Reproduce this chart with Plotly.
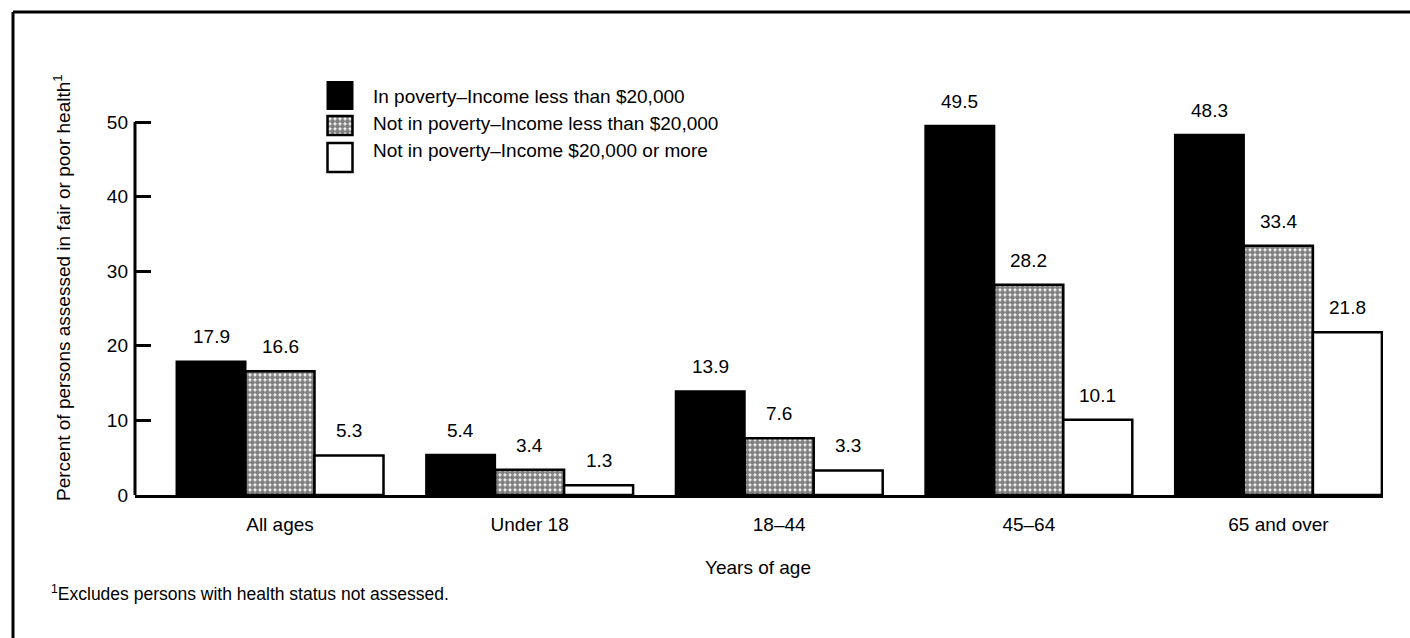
import plotly.graph_objects as go

categories = ["All ages", "Under 18", "18\u201344", "45\u201364", "65 and over"]
series_names = [
    "In poverty\u2013Income less than $20,000",
    "Not in poverty\u2013Income less than $20,000",
    "Not in poverty\u2013Income $20,000 or more",
]
in_poverty = [17.9, 5.4, 13.9, 49.5, 48.3]
not_poverty_low = [16.6, 3.4, 7.6, 28.2, 33.4]
not_poverty_high = [5.3, 1.3, 3.3, 10.1, 21.8]
y_ticks = [0, 10, 20, 30, 40, 50]

FONT = "Liberation Sans, Arial, Helvetica, sans-serif"
FS = 19
W, H = 1410, 638
ML, MR, MT, MB = 135, 27, 40, 143
PW, PH = W - ML - MR, H - MT - MB


def px_x(px):
    return (px - ML) / PW


def px_y(py):
    return (H - MB - py) / PH


xs = list(range(len(categories)))
bar_w = 0.2764
styles = [
    dict(color="black", line=dict(color="black", width=2)),
    dict(color="white", line=dict(color="black", width=2.5),
         pattern=dict(shape=".", fgcolor="black", bgcolor="white", size=5, solidity=0.75)),
    dict(color="white", line=dict(color="black", width=2.5)),
]
series = [in_poverty, not_poverty_low, not_poverty_high]

fig = go.Figure()
for j, (vals, st) in enumerate(zip(series, styles)):
    fig.add_trace(go.Bar(
        x=xs, y=vals, name=series_names[j], marker=st,
        width=bar_w, offset=(j - 1.5) * bar_w, showlegend=False,
        hoverinfo="skip",
    ))

# value labels
annotations = []
for j, vals in enumerate(series):
    for i, v in enumerate(vals):
        annotations.append(dict(
            x=xs[i] + (j - 1) * bar_w, y=v, xref="x", yref="y",
            text=f"{v:.1f}", showarrow=False, yanchor="bottom", yshift=12,
            font=dict(size=FS, color="black", family=FONT),
        ))

# legend swatches on a small overlay axis
leg_base = [63, 37, 0]
leg_h = [27, 19, 29]
for j, st in enumerate(styles):
    fig.add_trace(go.Bar(
        x=[0.5], y=[leg_h[j]], base=[leg_base[j]], width=1,
        marker=st, xaxis="x2", yaxis="y2", showlegend=False, hoverinfo="skip",
    ))
leg_text_y = [96.5, 123.5, 150]
for j, name in enumerate(series_names):
    annotations.append(dict(
        x=px_x(371), y=px_y(leg_text_y[j]), xref="paper", yref="paper",
        text=name, showarrow=False, xanchor="left", yanchor="middle",
        font=dict(size=FS, color="black", family=FONT),
    ))

# axis titles and footnote
annotations.append(dict(
    x=px_x(62), y=px_y(288), xref="paper", yref="paper",
    text="Percent of persons assessed in fair or poor health<sup>1</sup>",
    textangle=-90, showarrow=False, xanchor="center", yanchor="middle",
    font=dict(size=FS, color="black", family=FONT),
))
annotations.append(dict(
    x=px_x(758), y=px_y(567), xref="paper", yref="paper",
    text="Years of age", showarrow=False, xanchor="center", yanchor="middle",
    font=dict(size=FS, color="black", family=FONT),
))
annotations.append(dict(
    x=px_x(49), y=px_y(593), xref="paper", yref="paper",
    text="<sup>1</sup>Excludes persons with health status not assessed.",
    showarrow=False, xanchor="left", yanchor="middle",
    font=dict(size=17.5, color="black", family=FONT),
))

shapes = [
    # y axis line from 0 to 50
    dict(type="line", xref="paper", yref="y", x0=0, x1=0, y0=0, y1=50,
         line=dict(color="black", width=3)),
    # frame
    dict(type="line", xref="paper", yref="paper", x0=px_x(13), x1=px_x(1420),
         y0=px_y(12), y1=px_y(12), line=dict(color="black", width=3)),
    dict(type="line", xref="paper", yref="paper", x0=px_x(13), x1=px_x(13),
         y0=px_y(12), y1=px_y(660), line=dict(color="black", width=3)),
]

ymax = (H - MB - MT) / ((H - MB - 122) / 50)

fig.update_layout(
    width=W, height=H,
    margin=dict(l=ML, r=MR, t=MT, b=MB, pad=0),
    paper_bgcolor="white", plot_bgcolor="white",
    barmode="overlay",
    font=dict(family=FONT, color="black", size=FS),
    xaxis=dict(
        range=[-0.581, 4.419], tickvals=xs, ticktext=categories,
        showline=True, linecolor="black", linewidth=3, ticks="",
        showgrid=False, zeroline=False, ticklabelstandoff=10,
        tickfont=dict(size=FS, family=FONT, color="black"),
        fixedrange=True,
    ),
    yaxis=dict(
        range=[0, ymax], tickvals=y_ticks, ticks="inside", ticklen=16,
        tickwidth=3, tickcolor="black", showline=False, showgrid=False,
        zeroline=False, ticklabelstandoff=6,
        tickfont=dict(size=FS, family=FONT, color="black"),
    ),
    xaxis2=dict(domain=[px_x(325), px_x(355)], range=[-0.1, 1.1], anchor="y2",
                visible=False),
    yaxis2=dict(domain=[px_y(175), px_y(79)], range=[-3, 93], anchor="x2",
                visible=False),
    annotations=annotations,
    shapes=shapes,
    showlegend=False,
)

fig.write_html(
    "out.html",
    config={"displayModeBar": False},
    post_script="document.body.style.margin='0px';document.body.style.overflow='hidden';",
)
